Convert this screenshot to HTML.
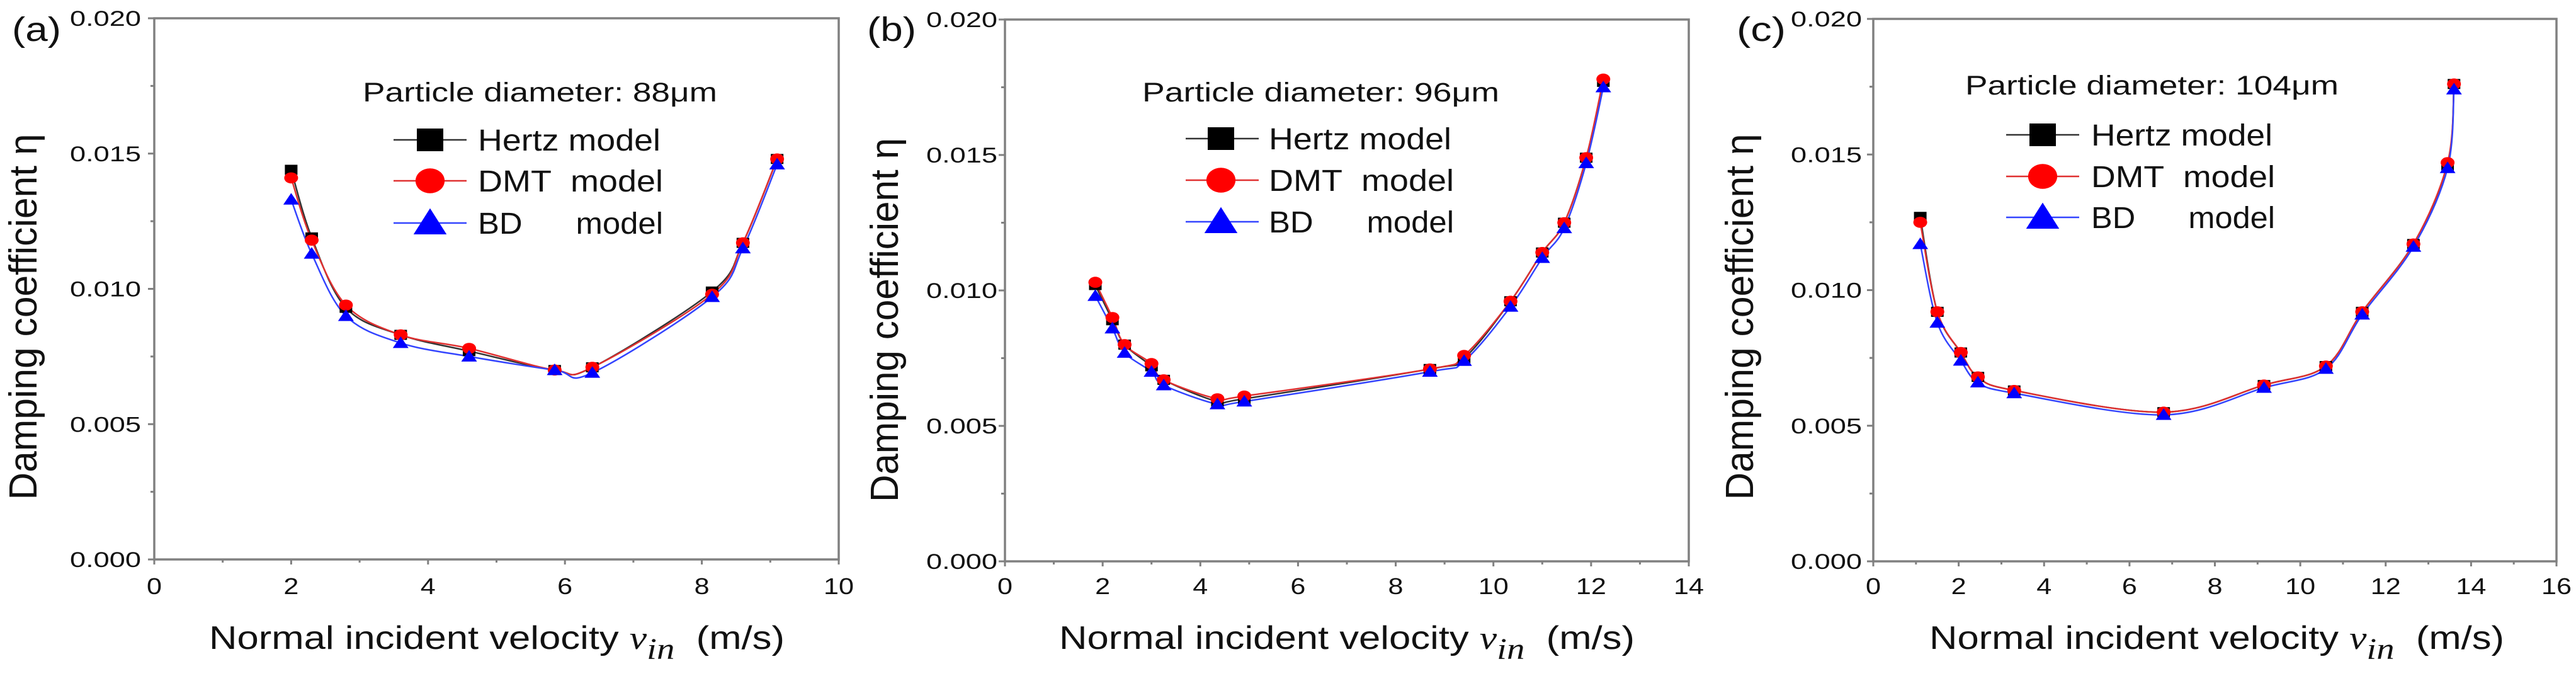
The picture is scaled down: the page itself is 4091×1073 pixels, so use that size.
<!DOCTYPE html>
<html><head><meta charset="utf-8"><style>
html,body{margin:0;padding:0;background:#fff;overflow:hidden}
svg{display:block;font-family:"Liberation Sans",sans-serif}
</style></head><body>
<svg id="fig" width="4091" height="1073" viewBox="0 0 4091 1073" xmlns="http://www.w3.org/2000/svg"></svg>
<script>
// Panel (a)
const xA = [2,2.3,2.8,3.6,4.6,5.85,6.4,8.15,8.6,9.1];
const hertzA = [0.0144,0.0119,0.0093,0.0083,0.0077,0.0070,0.0071,0.0099,0.0117,0.0148];
const dmtA = [0.0141,0.0118,0.0094,0.0083,0.0078,0.0070,0.0071,0.0098,0.0117,0.0148];
const bdA = [0.0133,0.0113,0.0090,0.0080,0.0075,0.0070,0.0069,0.0097,0.0115,0.0146];
// Panel (b)
const xB = [1.85,2.2,2.45,3.0,3.25,4.35,4.9,8.7,9.4,10.35,11.0,11.45,11.9,12.25];
const hertzB = [0.0102,0.0089,0.0080,0.0072,0.0067,0.0059,0.0060,0.0071,0.0075,0.0096,0.0114,0.0125,0.0149,0.0177];
const dmtB = [0.0103,0.0090,0.0080,0.0073,0.0067,0.0060,0.0061,0.0071,0.0076,0.0096,0.0114,0.0125,0.0149,0.0178];
const bdB = [0.0098,0.0086,0.0077,0.0070,0.0065,0.0058,0.0059,0.0070,0.0074,0.0094,0.0112,0.0123,0.0147,0.0175];
// Panel (c)
const xC = [1.1,1.5,2.05,2.45,3.3,6.8,9.15,10.6,11.45,12.65,13.45,13.6];
const hertzC = [0.0127,0.0092,0.0077,0.0068,0.0063,0.0055,0.0065,0.0072,0.0092,0.0117,0.0146,0.0176];
const dmtC = [0.0125,0.0092,0.0077,0.0068,0.0063,0.0055,0.0065,0.0072,0.0092,0.0117,0.0147,0.0176];
const bdC = [0.0117,0.0088,0.0074,0.0066,0.0062,0.0054,0.0064,0.0071,0.0091,0.0116,0.0145,0.0174];
const yTicks = ["0.000","0.005","0.010","0.015","0.020"];
const xTicksA = ["0","2","4","6","8","10"];
const xTicksB = ["0","2","4","6","8","10","12","14"];
const xTicksC = ["0","2","4","6","8","10","12","14","16"];

const NS="http://www.w3.org/2000/svg";
const svg=document.getElementById('fig');
function mk(tag,attrs,parent){const e=document.createElementNS(NS,tag);for(const k in attrs)e.setAttribute(k,attrs[k]);(parent||svg).appendChild(e);return e;}
function txt(parent,x,y,str,size,len,anchor){
  const a={x:x,y:y,'font-size':size,fill:'#111','text-anchor':anchor||'start'};
  if(len){a.textLength=len;a.lengthAdjust='spacingAndGlyphs';}
  const t=mk('text',a,parent);t.textContent=str;return t;
}
function smooth(pts){let d=`M${pts[0][0]},${pts[0][1]}`;for(let i=0;i<pts.length-1;i++){const p0=pts[Math.max(i-1,0)],p1=pts[i],p2=pts[i+1],p3=pts[Math.min(i+2,pts.length-1)];const c1=[p1[0]+(p2[0]-p0[0])/6,p1[1]+(p2[1]-p0[1])/6],c2=[p2[0]-(p3[0]-p1[0])/6,p2[1]-(p3[1]-p1[1])/6];d+=` C${c1[0]},${c1[1]} ${c2[0]},${c2[1]} ${p2[0]},${p2[1]}`;}return d;}
function marker(g,type,cx,cy,w,h,color){
  if(type==='sq') return mk('rect',{x:cx-w,y:cy-h,width:2*w,height:2*h,fill:color},g);
  if(type==='ci') return mk('ellipse',{cx:cx,cy:cy,rx:w*1.1,ry:h*1.1,fill:color},g);
  return mk('polygon',{points:`${cx},${cy-h*1.3} ${cx-w*1.25},${cy+h} ${cx+w*1.25},${cy+h}`,fill:color},g);
}
const panels=[
 {id:'a',L:245,R:1332,T:29,B:888,xmax:10,xt:xTicksA,xs:xA,h:hertzA,d:dmtA,b:bdA,title:'Particle diameter: 88\u03bcm',tx:576,tw:563,ty:161,lx:625,mx:683,txl:759,tlw:290,rows:[222,287,354],ytx:36,yty:503,ytl:581,lab:19,xtx0:332,xtx1:1246,ytr:224},
 {id:'b',L:1596,R:2682,T:31,B:891,xmax:14,xt:xTicksB,xs:xB,h:hertzB,d:dmtB,b:bdB,title:'Particle diameter: 96\u03bcm',tx:1814,tw:567,ty:161,lx:1883,mx:1939,txl:2015,tlw:290,rows:[220,286,352],ytx:1404,yty:508,ytl:578,lab:1377,xtx0:1682,xtx1:2596,ytr:1584},
 {id:'c',L:2975,R:4060,T:30,B:891,xmax:16,xt:xTicksC,xs:xC,h:hertzC,d:dmtC,b:bdC,title:'Particle diameter: 104\u03bcm',tx:3121,tw:593,ty:150,lx:3186,mx:3244,txl:3321,tlw:288,rows:[214,280,345],ytx:2762,yty:503,ytl:581,lab:2758,xtx0:3064,xtx1:3977,ytr:2957}
];
const cols={hertz:['#333','#000'],dmt:['#e03030','#f00'],bd:['#3344ff','#00f']};
panels.forEach(p=>{
  const g=mk('g',{});
  
  
  const X=v=>p.L+(v/p.xmax)*(p.R-p.L), Y=v=>p.B-(v/0.02)*(p.B-p.T);
  const fr=mk('rect',{x:p.L,y:p.T,width:p.R-p.L,height:p.B-p.T,fill:'none',stroke:'#808080','stroke-width':3.5},g);
  
  
  const step=parseFloat(p.xt[1])-parseFloat(p.xt[0]);
  p.xt.forEach((t,i)=>{
    const v=parseFloat(t),x=X(v);
    mk('line',{x1:x,y1:p.B,x2:x,y2:p.B+8,stroke:'#808080','stroke-width':3},g);
    if(i<p.xt.length-1){const xm=X(v+step/2);mk('line',{x1:xm,y1:p.B,x2:xm,y2:p.B+5,stroke:'#808080','stroke-width':3},g);}
    const tl=txt(g,x,943,t,36,t.length*24,'middle');
    
    
  });
  yTicks.forEach((t,i)=>{
    const v=parseFloat(t),y=Y(v);
    mk('line',{x1:p.L,y1:y,x2:p.L-10,y2:y,stroke:'#808080','stroke-width':3},g);
    if(i<yTicks.length-1){const ym=Y(v+0.0025);mk('line',{x1:p.L,y1:ym,x2:p.L-6,y2:ym,stroke:'#808080','stroke-width':3},g);}
    const tl=txt(g,p.ytr,y+12,t,34,113,'end');
    
    
  });
  const ser=[[p.h,'hertz','sq'],[p.d,'dmt','ci'],[p.b,'bd','tr']];
  ser.forEach(s=>{
    const pts=p.xs.map((x,i)=>[X(x),Y(s[0][i])]);
    const ln=mk('path',{d:smooth(pts),fill:'none',stroke:cols[s[1]][0],'stroke-width':2.5},g);
    
    
  });
  ser.forEach(s=>{
    p.xs.forEach((x,i)=>{
      const m=marker(g,s[2],X(x),Y(s[0][i]),10,8,cols[s[1]][1]);
      
      
    });
  });
  const tt=txt(g,p.tx,p.ty,p.title,43,p.tw);
  
  
  const names=['Hertz model','DMT\u00a0\u00a0model','BD\u00a0\u00a0\u00a0\u00a0\u00a0\u00a0model'];
  ser.forEach((s,i)=>{
    const y=p.rows[i];
    const le=mk('g',{},g);
    
    
    mk('line',{x1:p.lx,y1:y,x2:p.lx+116,y2:y,stroke:cols[s[1]][0],'stroke-width':2.5},le);
    marker(le,s[2],p.mx,y,21,18,cols[s[1]][1]);
    txt(le,p.txl,y+17,names[i],48,p.tlw+(i>0?4:0));
  });
  const xt=mk('text',{x:p.xtx0,y:1030,'font-size':52,fill:'#111',textLength:p.xtx1-p.xtx0,lengthAdjust:'spacingAndGlyphs'},g);
  
  
  xt.innerHTML='Normal incident velocity <tspan font-family="Liberation Serif,serif" font-style="italic">v</tspan><tspan font-family="Liberation Serif,serif" font-style="italic" dy="16" font-size="48">in</tspan><tspan dy="-16">\u00a0 (m/s)</tspan>';
  const yt=mk('text',{x:p.ytx+22,y:p.yty,'font-size':62,'text-anchor':'middle',fill:'#111',textLength:p.ytl,lengthAdjust:'spacingAndGlyphs',transform:`rotate(-90 ${p.ytx+22} ${p.yty})`},g);
  
  
  yt.textContent='Damping coefficient \u03b7';
  const lb=txt(g,p.lab,65,'('+p.id+')',54,78);
  
  
});
</script>
</body></html>
